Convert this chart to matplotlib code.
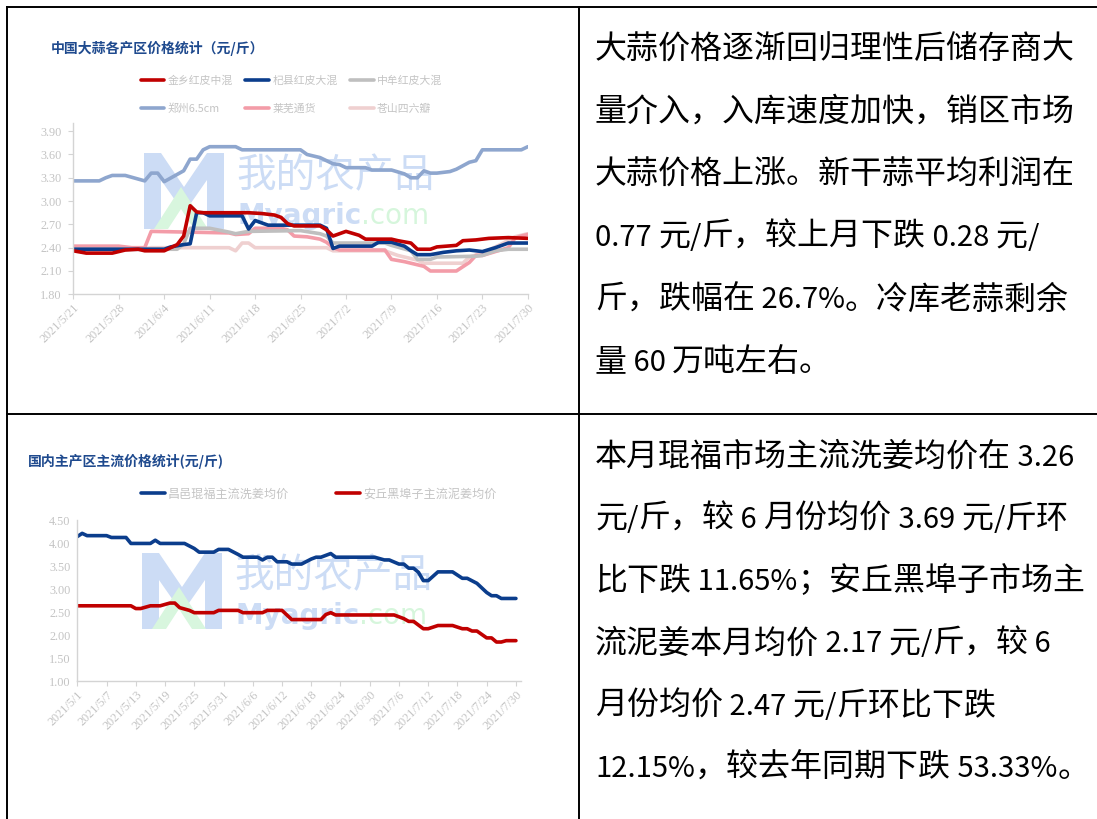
import datetime as dt
import matplotlib
matplotlib.use("Agg")
import matplotlib.pyplot as plt
from matplotlib.transforms import Affine2D
from matplotlib.patches import Polygon
from matplotlib.lines import Line2D

plt.rcParams['font.family'] = ['Noto Sans CJK SC', 'DejaVu Sans']

# ---------------- chart 1: garlic prices (元/斤) ----------------
garlic_title = "中国大蒜各产区价格统计（元/斤）"
garlic_names = ["金乡红皮中混", "杞县红皮大混", "中牟红皮大混", "郑州6.5cm", "莱芜通货", "苍山四六瓣"]
garlic_colors = ["#C00000", "#0B3D8C", "#BFBFBF", "#8EA6CE", "#F39CA8", "#EFD0D0"]

jx_dates = ["5/21", "5/23", "5/27", "5/29", "5/31", "6/1", "6/4", "6/6", "6/7", "6/8", "6/9", "6/10",
            "6/17", "6/19", "6/21", "6/22", "6/23", "6/24", "6/28", "6/29", "6/30", "7/1", "7/2", "7/4",
            "7/5", "7/9", "7/10", "7/12", "7/13", "7/15", "7/16", "7/19", "7/20", "7/22", "7/24", "7/27", "7/30"]
jx_vals = [2.36, 2.33, 2.33, 2.37, 2.38, 2.36, 2.36, 2.44, 2.55, 2.94, 2.86, 2.85,
           2.85, 2.84, 2.82, 2.79, 2.71, 2.68, 2.68, 2.63, 2.55, 2.58, 2.61, 2.56,
           2.51, 2.51, 2.49, 2.46, 2.38, 2.38, 2.41, 2.43, 2.49, 2.50, 2.52, 2.53, 2.52]

qx_dates = ["5/21", "6/4", "6/5", "6/7", "6/8", "6/9", "6/10", "6/11", "6/16", "6/17", "6/18", "6/19",
            "6/20", "6/28", "6/29", "6/30", "7/1", "7/6", "7/7", "7/9", "7/11", "7/12", "7/13", "7/15",
            "7/17", "7/19", "7/21", "7/23", "7/25", "7/27", "7/30"]
qx_vals = [2.38, 2.38, 2.41, 2.44, 2.45, 2.85, 2.85, 2.81, 2.81, 2.64, 2.75, 2.72,
           2.69, 2.69, 2.65, 2.39, 2.42, 2.42, 2.47, 2.47, 2.42, 2.36, 2.31, 2.31,
           2.34, 2.36, 2.37, 2.35, 2.40, 2.46, 2.46]

zm_dates = ["5/21", "6/6", "6/7", "6/8", "6/11", "6/14", "6/15", "6/17", "6/25", "6/28", "6/29", "6/30",
            "7/8", "7/9", "7/12", "7/13", "7/15", "7/16", "7/22", "7/23", "7/25", "7/27", "7/30"]
zm_vals = [2.38, 2.38, 2.45, 2.65, 2.65, 2.60, 2.58, 2.61, 2.62, 2.58, 2.55, 2.46,
           2.46, 2.43, 2.36, 2.25, 2.25, 2.28, 2.29, 2.30, 2.36, 2.38, 2.38]

zz_dates = ["5/21", "5/25", "5/26", "5/27", "5/29", "6/1", "6/2", "6/3", "6/4", "6/7", "6/8", "6/9",
            "6/10", "6/11", "6/15", "6/16", "6/25", "6/26", "6/28", "6/30", "7/1", "7/2", "7/5", "7/6",
            "7/9", "7/11", "7/12", "7/13", "7/14", "7/15", "7/16", "7/18", "7/19", "7/21", "7/22", "7/23",
            "7/29", "7/30"]
zz_vals = [3.26, 3.26, 3.30, 3.33, 3.33, 3.26, 3.36, 3.36, 3.25, 3.39, 3.54, 3.54,
           3.66, 3.70, 3.70, 3.66, 3.66, 3.60, 3.56, 3.48, 3.47, 3.43, 3.43, 3.40,
           3.40, 3.35, 3.30, 3.30, 3.39, 3.36, 3.36, 3.38, 3.41, 3.50, 3.52, 3.66,
           3.66, 3.70]

lw_dates = ["5/21", "5/28", "5/30", "6/1", "6/2", "6/14", "6/15", "6/17", "6/18", "6/22", "6/23", "6/24",
            "6/26", "6/28", "6/29", "6/30", "7/1", "7/8", "7/9", "7/11", "7/13", "7/14", "7/15", "7/19",
            "7/21", "7/22", "7/23", "7/25", "7/27", "7/28", "7/29", "7/30"]
lw_vals = [2.42, 2.42, 2.40, 2.40, 2.61, 2.59, 2.57, 2.58, 2.65, 2.65, 2.63, 2.55,
           2.54, 2.51, 2.47, 2.40, 2.37, 2.37, 2.25, 2.22, 2.18, 2.16, 2.10, 2.10,
           2.21, 2.30, 2.30, 2.35, 2.40, 2.52, 2.55, 2.57]

cs_dates = ["5/21", "5/31", "6/2", "6/14", "6/15", "6/16", "6/17", "6/18", "6/29", "6/30", "7/8", "7/10",
            "7/13", "7/14", "7/20", "7/21", "7/23", "7/26", "7/28", "7/30"]
cs_vals = [2.37, 2.38, 2.40, 2.40, 2.36, 2.46, 2.46, 2.40, 2.40, 2.36, 2.36, 2.30,
           2.24, 2.20, 2.20, 2.28, 2.33, 2.45, 2.54, 2.58]

garlic_xticks = ["2021/5/21", "2021/5/28", "2021/6/4", "2021/6/11", "2021/6/18", "2021/6/25",
                 "2021/7/2", "2021/7/9", "2021/7/16", "2021/7/23", "2021/7/30"]
garlic_yticks = [1.80, 2.10, 2.40, 2.70, 3.00, 3.30, 3.60, 3.90]

# ---------------- chart 2: ginger prices (元/斤) ----------------
ginger_title = "国内主产区主流价格统计(元/斤)"
ginger_names = ["昌邑琨福主流洗姜均价", "安丘黑埠子主流泥姜均价"]
ginger_colors = ["#0B3D8C", "#C00000"]

cy_dates = ["5/1", "5/2", "5/3", "5/7", "5/8", "5/11", "5/12", "5/16", "5/17", "5/18", "5/23", "5/25",
            "5/26", "5/29", "5/30", "6/1", "6/3", "6/4", "6/7", "6/8", "6/9", "6/10", "6/11", "6/13",
            "6/14", "6/16", "6/18", "6/19", "6/20", "6/22", "6/23", "7/1", "7/3", "7/4", "7/6", "7/7",
            "7/8", "7/9", "7/10", "7/11", "7/12", "7/14", "7/17", "7/19", "7/20", "7/22", "7/24", "7/25",
            "7/26", "7/27", "7/30"]
cy_vals = [4.15, 4.22, 4.17, 4.17, 4.13, 4.13, 4.00, 4.00, 4.07, 4.00, 4.00, 3.89,
           3.81, 3.81, 3.87, 3.87, 3.76, 3.70, 3.70, 3.64, 3.70, 3.70, 3.60, 3.60,
           3.55, 3.55, 3.66, 3.70, 3.70, 3.78, 3.70, 3.70, 3.64, 3.64, 3.55, 3.55,
           3.46, 3.46, 3.37, 3.19, 3.19, 3.38, 3.38, 3.24, 3.24, 3.13, 2.93, 2.86,
           2.86, 2.80, 2.80]

aq_dates = ["5/1", "5/12", "5/13", "5/14", "5/16", "5/18", "5/20", "5/21", "5/22", "5/24", "5/25", "5/29",
            "5/30", "6/3", "6/4", "6/8", "6/9", "6/12", "6/14", "6/20", "6/21", "6/22", "6/23", "7/5",
            "7/7", "7/8", "7/9", "7/11", "7/12", "7/14", "7/17", "7/19", "7/20", "7/21", "7/22", "7/24",
            "7/25", "7/26", "7/27", "7/28", "7/30"]
aq_vals = [2.64, 2.64, 2.58, 2.58, 2.64, 2.64, 2.70, 2.70, 2.60, 2.54, 2.49, 2.49,
           2.54, 2.54, 2.49, 2.49, 2.54, 2.54, 2.34, 2.34, 2.45, 2.49, 2.44, 2.44,
           2.36, 2.30, 2.30, 2.14, 2.14, 2.21, 2.21, 2.14, 2.14, 2.09, 2.09, 1.94,
           1.94, 1.85, 1.85, 1.88, 1.88]

ginger_xticks = ["2021/5/1", "2021/5/7", "2021/5/13", "2021/5/19", "2021/5/25", "2021/5/31",
                 "2021/6/6", "2021/6/12", "2021/6/18", "2021/6/24", "2021/6/30", "2021/7/6",
                 "2021/7/12", "2021/7/18", "2021/7/24", "2021/7/30"]
ginger_yticks = [1.00, 1.50, 2.00, 2.50, 3.00, 3.50, 4.00, 4.50]

# ---------------- commentary text ----------------
garlic_text = ["大蒜价格逐渐回归理性后储存商大",
               "量介入，入库速度加快，销区市场",
               "大蒜价格上涨。新干蒜平均利润在",
               "0.77 元/斤，较上月下跌 0.28 元/",
               "斤，跌幅在 26.7%。冷库老蒜剩余",
               "量 60 万吨左右。"]
ginger_text = ["本月琨福市场主流洗姜均价在 3.26",
               "元/斤，较 6 月份均价 3.69 元/斤环",
               "比下跌 11.65%；安丘黑埠子市场主",
               "流泥姜本月均价 2.17 元/斤，较 6",
               "月份均价 2.47 元/斤环比下跌",
               "12.15%，较去年同期下跌 53.33%。"]


def day(s):
    parts = [int(p) for p in s.split('/')]
    if len(parts) == 2:
        parts = [2021] + parts
    return dt.date(*parts)


W, H = 1097, 819
fig = plt.figure(figsize=(W / 100, H / 100), dpi=100)
px = Affine2D().scale(1.0 / W, -1.0 / H).translate(0, 1) + fig.transFigure
renderer = fig.canvas.get_renderer()


def box(l, t, r, b):
    return [l / W, 1 - b / H, (r - l) / W, (b - t) / H]


TICK_GREY = "#C4C4C4"
AXIS_GREY = "#D4D4D4"
TITLE_BLUE = "#1F4A8E"


def watermark(ax, x0, y0):
    m = [(0, 76), (0, 0), (17, 0), (40, 34), (63, 0), (80, 0), (80, 76), (63, 76),
         (63, 27), (40, 60), (17, 27), (17, 76)]
    ax.add_patch(Polygon([(x0 + a, y0 + b) for a, b in m], closed=True, transform=px,
                         fc="#CCDCF5", ec="none", zorder=0.5, clip_on=False))
    ax.add_patch(Polygon([(x0 + a, y0 + b) for a, b in [(10, 76), (37, 34), (64, 76)]],
                         closed=True, transform=px, fc="#D8F6DE", ec="none", zorder=0.6, clip_on=False))
    ax.add_patch(Polygon([(x0 + a, y0 + b) for a, b in [(24, 76), (37, 56), (50, 76)]],
                         closed=True, transform=px, fc="white", ec="none", zorder=0.7, clip_on=False))
    ax.text(x0 + 92, y0 + 23, "我的农产品", transform=px, fontsize=28.5, color="#CCDCF5",
            va="center", ha="left", zorder=0.5)
    t1 = ax.text(x0 + 93, y0 + 71, "Myagric", transform=px, fontsize=20, color="#CCDCF5",
                 family="DejaVu Sans", weight="bold", va="baseline", ha="left", zorder=0.5)
    ax.annotate(".com", xy=(1, 0), xycoords=t1, fontsize=20, color="#D6F6DC",
                family="DejaVu Sans", va="bottom", ha="left", zorder=0.5)


def style_axes(ax, xticks, yticks, ytick_len):
    for side in ("top", "right"):
        ax.spines[side].set_visible(False)
    for side in ("left", "bottom"):
        ax.spines[side].set_color(AXIS_GREY)
        ax.spines[side].set_linewidth(1.0)
    ax.set_facecolor("none")
    ax.set_xticks([day(s) for s in xticks])
    ax.set_xticklabels(xticks, rotation=45, ha="right", rotation_mode="anchor",
                       family="Liberation Serif", fontsize=8.8, color=TICK_GREY)
    ax.set_yticks(yticks)
    ax.set_yticklabels([f"{v:.2f}" for v in yticks], family="Liberation Serif",
                       fontsize=8.8, color=TICK_GREY)
    ax.tick_params(axis="x", length=3.5, width=0.8, color=AXIS_GREY, pad=2)
    ax.tick_params(axis="y", length=ytick_len, width=0.8, color=AXIS_GREY, pad=5)


# ---- chart 1
ax1 = fig.add_axes(box(73.3, 123.4, 527.8, 294.3))
series1 = [(jx_dates, jx_vals), (qx_dates, qx_vals), (zm_dates, zm_vals),
           (zz_dates, zz_vals), (lw_dates, lw_vals), (cs_dates, cs_vals)]
handles1 = [None] * 6
for i in [5, 2, 4, 3, 1, 0]:
    ds, vs = series1[i]
    handles1[i], = ax1.plot([day(s) for s in ds], vs, color=garlic_colors[i], lw=2.6,
                            solid_joinstyle="round", solid_capstyle="round",
                            label=garlic_names[i], zorder=2 + (5 - i) * 0.01)
ax1.set_xlim(day("5/21"), day("5/21") + dt.timedelta(days=70.8))
ax1.set_ylim(1.80, 4.00)
style_axes(ax1, garlic_xticks, garlic_yticks, 3.5)
watermark(ax1, 144, 153)
order = [0, 3, 1, 4, 2, 5]
ax1.legend([handles1[i] for i in order], [garlic_names[i] for i in order], ncol=3,
           loc="upper left", bbox_to_anchor=(140.5 / W, 1 - 75.5 / H), bbox_transform=fig.transFigure,
           frameon=False, fontsize=7.8, labelcolor=TICK_GREY, borderpad=0, borderaxespad=0,
           handlelength=2.2, handletextpad=0.3, columnspacing=1.15, labelspacing=1.6)
fig.text(50.5, 48.5, garlic_title, transform=px, fontsize=10, weight="bold",
         color=TITLE_BLUE, va="center", ha="left")

# ---- chart 2
ax2 = fig.add_axes(box(77.3, 519.6, 520.8, 681.0))
series2 = [(cy_dates, cy_vals), (aq_dates, aq_vals)]
handles2 = []
for i, (ds, vs) in enumerate(series2):
    h, = ax2.plot([day(s) for s in ds], vs, color=ginger_colors[i], lw=2.6,
                  solid_joinstyle="round", solid_capstyle="round", label=ginger_names[i])
    handles2.append(h)
ax2.set_xlim(day("5/1"), day("5/1") + dt.timedelta(days=91.2))
ax2.set_ylim(1.00, 4.52)
style_axes(ax2, ginger_xticks, ginger_yticks, 0)
watermark(ax2, 142, 553)
ax2.legend(handles2, ginger_names, ncol=2, loc="upper left",
           bbox_to_anchor=(140.5 / W, 1 - 487.5 / H), bbox_transform=fig.transFigure,
           frameon=False, fontsize=8.7, labelcolor=TICK_GREY, borderpad=0, borderaxespad=0,
           handlelength=2.0, handletextpad=0.25, columnspacing=3.9)
fig.text(27.7, 461.7, ginger_title, transform=px, fontsize=10, weight="bold",
         color=TITLE_BLUE, va="center", ha="left")


# ---- commentary cells: CJK runs at 23pt, Latin runs a little smaller (as in the Word source)
def runs(line):
    out = []
    for ch in line:
        wide = ord(ch) >= 0x2E80
        if out and out[-1][1] == wide:
            out[-1][0] += ch
        else:
            out.append([ch, wide])
    return out


def write_line(x, baseline, line):
    for txt, wide in runs(line):
        t = fig.text(x, baseline, txt, transform=px, fontsize=23 if wide else 21,
                     family="Noto Sans CJK SC", color="black", va="baseline", ha="left")
        x += t.get_window_extent(renderer).width


for k, line in enumerate(garlic_text):
    write_line(595, 58.5 + k * 62.5, line)
for k, line in enumerate(ginger_text):
    write_line(595, 465.5 + k * 62.3, line)

# ---- table rules
for (x1, y1, x2, y2) in [(7, 7, 1097, 7), (7, 7, 7, 819), (579, 7, 579, 819), (7, 414, 1097, 414)]:
    fig.add_artist(Line2D([x1, x2], [y1, y2], transform=px, color="black", lw=1.4,
                          solid_capstyle="projecting"))

fig.savefig("out.png", dpi=100)
